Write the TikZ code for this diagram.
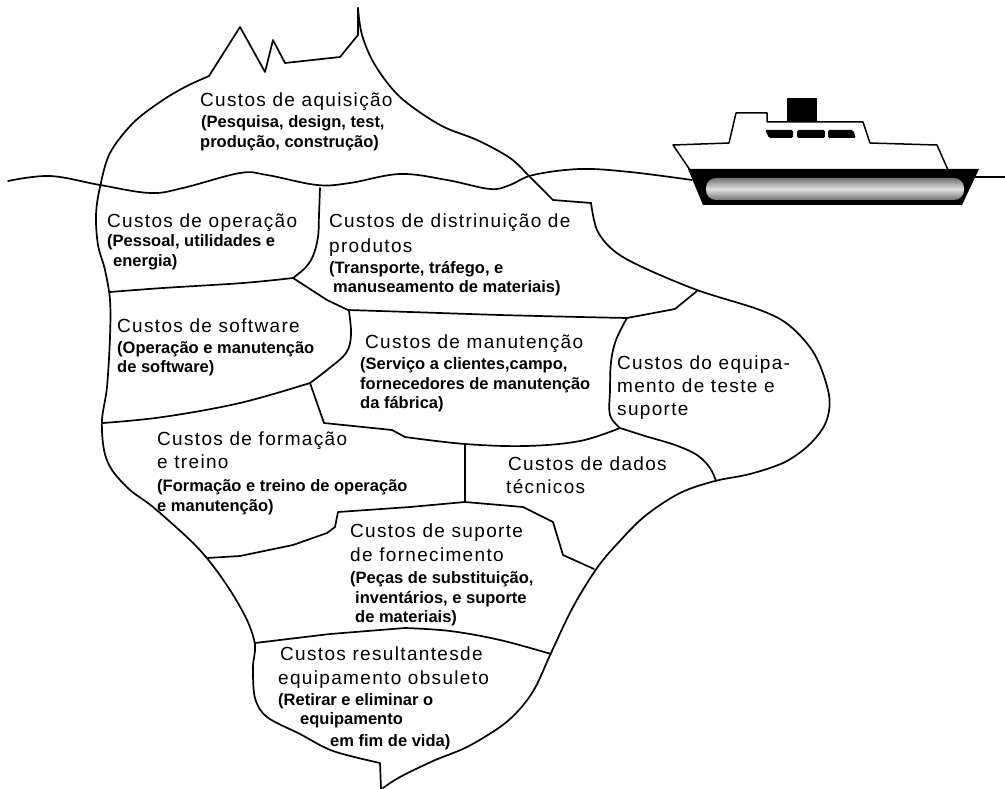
\documentclass[tikz,border=0pt]{standalone}
\usepackage{fontspec}
\setmainfont{Liberation Sans}
\newfontfamily\headfont[LetterSpace=7]{Liberation Sans}
\newfontfamily\notefont{Liberation Sans}
\begin{document}
\begin{tikzpicture}[x=1pt,y=-1pt,
  outline/.style={line width=1.7pt, line join=round, line cap=round},
  head/.style={anchor=base west, inner sep=0pt, font=\headfont\fontsize{19}{22}\selectfont},
  note/.style={anchor=base west, inner sep=0pt, font=\notefont\bfseries\fontsize{16.5}{20}\selectfont},
]
\useasboundingbox (0,0) rectangle (1005,789);

% ---------- sea level ----------
\draw[outline] plot[smooth, tension=0.6] coordinates {(8,181) (50,176) (100,185) (150,193) (183,188) (240,173) (267,175) (317,185) (350,183) (400,174) (447,180) (490,189) (510,185) (533,175) (580,169) (630,172) (692,180)};
\coordinate (seaR) at (975,177);
\coordinate (seaEnd) at (1005,177);
\draw[outline] (seaR) -- (seaEnd);

% ---------- iceberg outline ----------
% peaks above water
\draw[outline] (209,76) -- (240,27) -- (265,72) -- (273,40) -- (285,63) -- (340,57) -- (358,35) -- (358,8);
% left flank down to the tip
\draw[outline] plot[smooth, tension=0.55] coordinates {(209,76) (185,87) (160,102) (133,123) (110,153) (100,187) (96,215) (98,245) (105,270) (110,300) (110,337) (107,387) (102,420) (104,450) (112,470) (130,490) (153,507) (190,540) (210,562) (230,590) (247,620) (255,645) (253,667) (255,698) (267,717) (300,734) (333,751) (380,763)} -- (381,789);
% right flank down to the tip
\draw[outline] plot[smooth, tension=0.55] coordinates {(358,8) (362,35) (375,65) (400,97) (440,125) (477,140) (510,158) (530,177) (553,200)} -- (591,203);
\draw[outline] plot[smooth, tension=0.55] coordinates {(591,203) (597,230) (613,250) (640,266) (697,290) (760,310) (790,326) (815,355) (829,395) (826,422) (810,444) (785,462) (750,474) (715,481) (680,493) (645,516) (618,543) (597,568) (573,607) (551,653) (535,688) (519,710) (500,727) (467,747) (433,761) (400,777) (383,788)};

% ---------- internal boundaries ----------
\draw[outline] plot[smooth, tension=0.6] coordinates {(320,188) (319,215) (318,237) (313,256) (305,268) (293,278)};
\draw[outline] plot[smooth, tension=0.6] coordinates {(110,292) (163,288) (243,283) (293,278)};
\draw[outline] (293,278) -- (327,300) -- (348,310);
\draw[outline] plot[smooth, tension=0.5] coordinates {(348,310) (410,312) (500,315) (580,317) (627,318)} -- (675,309) -- (697,291);
\draw[outline] plot[smooth, tension=0.6] coordinates {(349,311) (351,335) (346,353) (327,370) (310,383)};
\draw[outline] plot[smooth, tension=0.6] coordinates {(103,423) (163,417) (240,403) (310,383)};
\draw[outline] (310,383) -- (324,423) -- (392,430) -- (405,437);
\draw[outline] plot[smooth, tension=0.6] coordinates {(405,437) (465,444) (526,446) (580,441) (620,428)};
\draw[outline] plot[smooth, tension=0.6] coordinates {(627,318) (616,340) (611,362) (610,390) (610,415) (620,428)};
\draw[outline] plot[smooth, tension=0.6] coordinates {(620,428) (645,436) (675,445) (697,455) (710,468) (716,481)};
\draw[outline] (465,444) -- (465,502);
\draw[outline] (207,558) -- (240,556) -- (293,545) -- (327,533) -- (335,527) -- (338,512) -- (410,507) -- (465,502) -- (523,507) -- (553,522) -- (563,555) -- (594,569);
\draw[outline] (255,643) -- (330,634) -- (405,628);
\draw[outline] plot[smooth, tension=0.6] coordinates {(405,628) (450,631) (500,640) (551,654)};

% ---------- ship ----------
\draw[line width=1.5pt, line join=round, fill=white] (690,170) -- (673,145) -- (729,143) -- (736,113) -- (767,113) -- (767,122) -- (863,122) -- (870,143) -- (937,145) -- (948,170);
\fill[black] (787,98) rectangle (817,121);
\fill[black, rounded corners=1.5pt] (765,130) -- (793,130) -- (793,138) -- (769,138) -- cycle;
\fill[black, rounded corners=1.5pt] (797,130) rectangle (825,138);
\fill[black, rounded corners=1.5pt] (828,130) -- (853,130) -- (856,138) -- (828,138) -- cycle;
\fill[black] (688,169) -- (979,169) -- (962,205) -- (703,205) -- cycle;
\shade[top color=black!55, bottom color=black!55, middle color=black!12, rounded corners=10pt] (706,178) rectangle (964,200);

% ---------- labels ----------
\node[head] (aq1) at (200,107) {Custos de aquisição};
\node[note] (aq2) at (201,128) {(Pesquisa, design, test,};
\node[note] (aq3) at (200,148) {produção, construção)};

\node[head] (op1) at (107,227) {Custos de operação};
\node[note] (op2) at (107,247) {(Pessoal, utilidades e};
\node[note] (op3) at (113,266) {energia)};

\node[head] (di1) at (329,228) {Custos de distrinuição de};
\node[head] (di2) at (329,252) {produtos};
\node[note] (di3) at (329,273) {(Transporte, tráfego, e};
\node[note] (di4) at (333,292) {manuseamento de materiais)};

\node[head] (sw1) at (117,332) {Custos de software};
\node[note] (sw2) at (117,353) {(Operação e manutenção};
\node[note] (sw3) at (117,372) {de software)};

\node[head] (ma1) at (365,348) {Custos de manutenção};
\node[note] (ma2) at (360,369) {(Serviço a clientes,campo,};
\node[note] (ma3) at (360,389) {fornecedores de manutenção};
\node[note] (ma4) at (360,408) {da fábrica)};

\node[head] (eq1) at (617,369) {Custos do equipa-};
\node[head] (eq2) at (617,392) {mento de teste e};
\node[head] (eq3) at (617,415) {suporte};

\node[head] (fo1) at (157,445) {Custos de formação};
\node[head] (fo2) at (157,468) {e treino};
\node[note] (fo3) at (157,491) {(Formação e treino de operação};
\node[note] (fo4) at (157,511) {e manutenção)};

\node[head] (da1) at (508,470) {Custos de dados};
\node[head] (da2) at (506,493) {técnicos};

\node[head] (su1) at (350,537) {Custos de suporte};
\node[head] (su2) at (350,561) {de fornecimento};
\node[note] (su3) at (350,583) {(Peças de substituição,};
\node[note] (su4) at (355,603) {inventários, e suporte};
\node[note] (su5) at (355,622) {de materiais)};

\node[head] (re1) at (280,660) {Custos resultantesde};
\node[head] (re2) at (278,684) {equipamento obsuleto};
\node[note] (re3) at (278,705) {(Retirar e eliminar o};
\node[note] (re4) at (300,724) {equipamento};
\node[note] (re5) at (330,746) {em fim de vida)};
\end{tikzpicture}
\end{document}
